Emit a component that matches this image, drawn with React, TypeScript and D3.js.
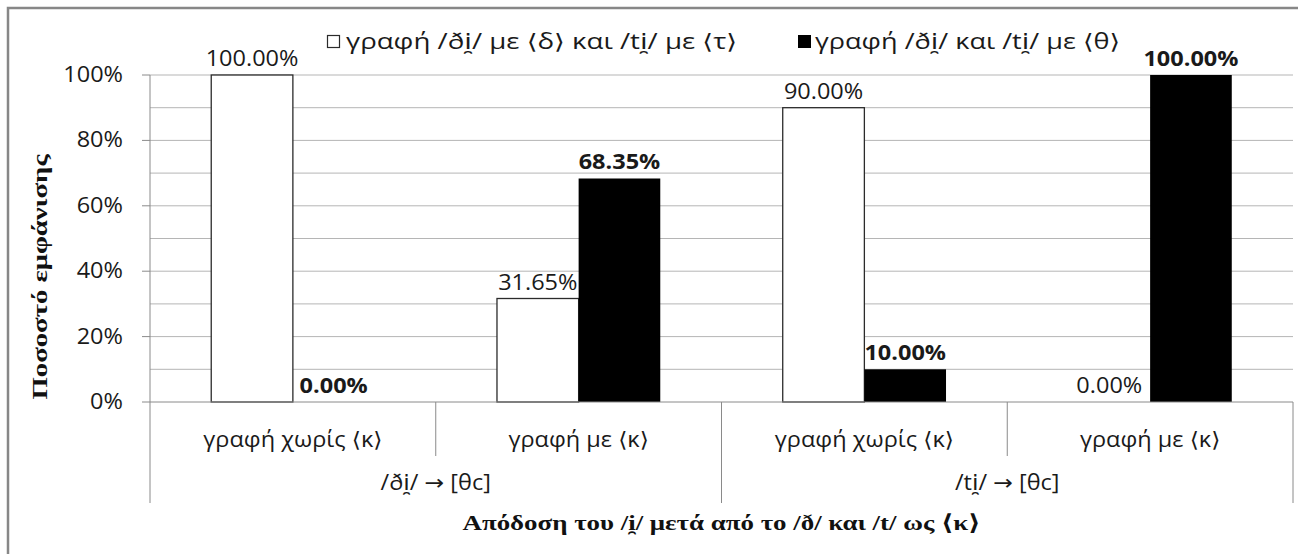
import React from "react";
import * as d3 from "d3";

// Subcategory labels along the x axis (two per group)
const categories = ["γραφή χωρίς ⟨κ⟩", "γραφή με ⟨κ⟩", "γραφή χωρίς ⟨κ⟩", "γραφή με ⟨κ⟩"];
// Group labels under the subcategories
const groups = ["/ði\u032F/ → [θc]", "/ti\u032F/ → [θc]"];
// Series names
const seriesNames = [
  "γραφή /ði\u032F/ με ⟨δ⟩ και /ti\u032F/ με ⟨τ⟩",
  "γραφή /ði\u032F/ και /ti\u032F/ με ⟨θ⟩",
];
// Series values (shares)
const whiteValues = [1.0, 0.3165, 0.9, 0.0];
const blackValues = [0.0, 0.6835, 0.1, 1.0];
// Y axis ticks
const yTicks = [0, 0.2, 0.4, 0.6, 0.8, 1.0];
const yGrid = [0.1, 0.2, 0.3, 0.4, 0.5, 0.6, 0.7, 0.8, 0.9, 1.0];

const yTitle = "Ποσοστό εμφάνισης";
const xTitle = "Απόδοση του /i\u032F/ μετά από το /ð/ και /t/ ως ⟨κ⟩";

const SANS = "'Open Sans', 'DejaVu Sans', sans-serif";
const SERIF = "'Liberation Serif', 'DejaVu Serif', serif";
const SX = 1.12;

function T(props: {
  x: number;
  y: number;
  children: React.ReactNode;
  anchor?: "start" | "middle" | "end";
  bold?: boolean;
  size?: number;
  len?: number;
}) {
  const { x, y, children, anchor = "middle", bold = false, size = 21, len } = props;
  const extra = len ? { textLength: len / SX, lengthAdjust: "spacingAndGlyphs" } : {};
  return (
    <text
      transform={`translate(${x},${y}) scale(${SX},1)`}
      textAnchor={anchor}
      fontFamily={SANS}
      fontSize={size}
      fontWeight={bold ? 700 : 400}
      fill="#1a1a1a"
      {...extra}
    >
      {children}
    </text>
  );
}

export default function App() {
  const W = 1298;
  const H = 554;
  const left = 150;
  const right = 1293;
  const top = 75;
  const bottom = 402;

  const y = d3.scaleLinear().domain([0, 1]).range([bottom, top]);
  const x = d3
    .scaleBand<number>()
    .domain(categories.map((_, i) => i))
    .range([left, right])
    .padding(0);
  const bw = x.bandwidth();
  const barW = bw / 3.5;
  const fmt = (v: number) => (v * 100).toFixed(2) + "%";
  const pct = d3.format(".0%");

  const axisColor = "#8a8a8a";
  const gridColor = "#b5b5b5";

  return (
    <svg
      width={W}
      height={H}
      style={{ position: "absolute", left: 0, top: 0, background: "#fff" }}
    >
      {/* chart frame */}
      <rect x={8} y={8} width={W + 20} height={H + 20} fill="#fff" stroke="#878787" strokeWidth={2.5} />

      {/* gridlines */}
      {yGrid.map((t) => (
        <line key={"g" + t} x1={left} x2={right} y1={y(t)} y2={y(t)} stroke={gridColor} strokeWidth={1} />
      ))}

      {/* bars */}
      {whiteValues.map((v, i) => {
        const cx = (x(i) as number) + bw / 2;
        return (
          <rect
            key={"w" + i}
            x={cx - barW}
            y={y(v)}
            width={barW}
            height={bottom - y(v)}
            fill="#fff"
            stroke="#2b2b2b"
            strokeWidth={1.3}
          />
        );
      })}
      {blackValues.map((v, i) => {
        const cx = (x(i) as number) + bw / 2;
        return <rect key={"b" + i} x={cx} y={y(v)} width={barW} height={bottom - y(v)} fill="#000" />;
      })}

      {/* y axis */}
      <line x1={left} x2={left} y1={top} y2={bottom} stroke={axisColor} strokeWidth={1} />
      {yTicks.map((t) => (
        <g key={"t" + t}>
          <line x1={left - 8} x2={left} y1={y(t)} y2={y(t)} stroke={axisColor} strokeWidth={1} />
          <T x={123} y={y(t) + 7} anchor="end">
            {pct(t)}
          </T>
        </g>
      ))}

      {/* x axis and category dividers */}
      <line x1={left} x2={right} y1={bottom} y2={bottom} stroke={axisColor} strokeWidth={1} />
      {[0, 1, 2, 3, 4].map((k) => {
        const xx = left + k * bw;
        const long = k % 2 === 0;
        return (
          <line key={"d" + k} x1={xx} x2={xx} y1={bottom} y2={long ? 503 : 456} stroke={axisColor} strokeWidth={1} />
        );
      })}
      {categories.map((c, i) => (
        <T key={"c" + i} x={(x(i) as number) + bw / 2} y={447}>
          {c}
        </T>
      ))}
      {groups.map((g, i) => (
        <T key={"gr" + i} x={left + bw * (2 * i + 1)} y={490}>
          {g}
        </T>
      ))}

      {/* value labels */}
      {whiteValues.map((v, i) => (
        <T key={"lw" + i} x={(x(i) as number) + bw / 2 - barW / 2} y={y(v) - 9}>
          {fmt(v)}
        </T>
      ))}
      {blackValues.map((v, i) => (
        <T key={"lb" + i} x={(x(i) as number) + bw / 2 + barW / 2} y={y(v) - 9} bold>
          {fmt(v)}
        </T>
      ))}

      {/* legend */}
      <rect x={327.5} y={35.5} width={12} height={12} fill="#fff" stroke="#2b2b2b" strokeWidth={1.2} />
      <T x={346} y={49} anchor="start" len={391}>
        {seriesNames[0]}
      </T>
      <rect x={798} y={35} width={13} height={13} fill="#000" />
      <T x={815} y={49} anchor="start" len={305}>
        {seriesNames[1]}
      </T>

      {/* axis titles */}
      <text
        transform="translate(47,277) rotate(-90)"
        textAnchor="middle"
        fontFamily={SERIF}
        fontWeight={700}
        fontSize={22}
        textLength={245}
        lengthAdjust="spacingAndGlyphs"
        fill="#111"
      >
        {yTitle}
      </text>
      <text
        x={(left + right) / 2}
        y={530}
        textAnchor="middle"
        fontFamily={SERIF}
        fontWeight={700}
        fontSize={22}
        textLength={518}
        lengthAdjust="spacingAndGlyphs"
        fill="#111"
      >
        {xTitle}
      </text>
    </svg>
  );
}
